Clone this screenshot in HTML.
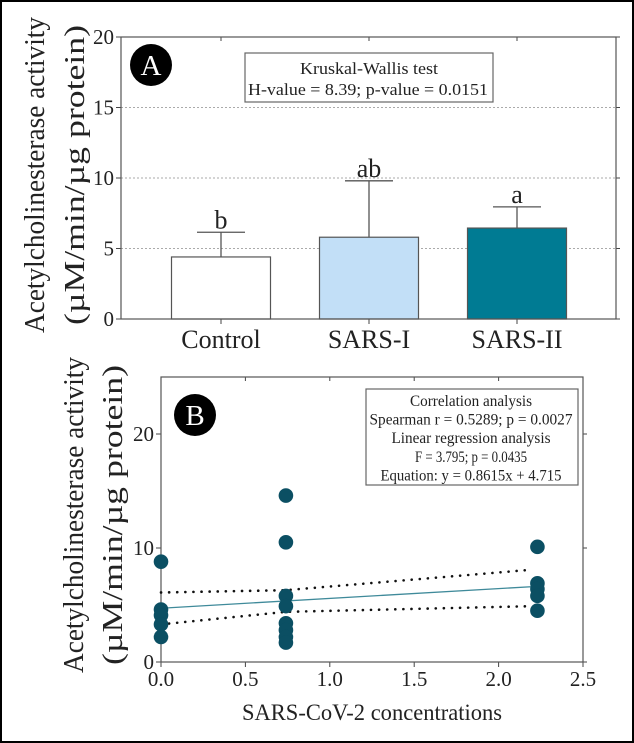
<!DOCTYPE html>
<html><head><meta charset="utf-8"><style>
html,body{margin:0;padding:0;background:#fff}
svg{display:block}
svg text{font-family:"Liberation Serif","DejaVu Serif","Noto Serif CJK SC",serif;fill:#222}
</style></head><body>
<svg width="634" height="743" viewBox="0 0 634 743" xmlns="http://www.w3.org/2000/svg">
<rect x="1" y="1" width="632" height="741" fill="#fff" stroke="#000" stroke-width="2"/>
<g id="panelA"></g>
<g id="panelB"></g>
</svg>
<script>
// Panel A data
const catsA = ["Control", "SARS-I", "SARS-II"];
const meansA = [4.4, 5.8, 6.45];
const errA = [6.15, 9.8, 7.95];
const lettersA = ["b", "ab", "a"];
const fillsA = ["#ffffff", "#c2dff7", "#007b93"];
const ticksA = [0, 5, 10, 15, 20];
// Panel B data
const xB0 = [0, 0, 0, 0, 0];
const yB0 = [8.8, 4.6, 4.1, 3.3, 2.2];
const xB1 = [0.74, 0.74, 0.74, 0.74, 0.74, 0.74, 0.74, 0.74];
const yB1 = [14.6, 10.5, 5.8, 4.9, 3.4, 2.8, 2.2, 1.7];
const xB2 = [2.23, 2.23, 2.23, 2.23, 2.23];
const yB2 = [10.1, 6.9, 6.4, 5.8, 4.5];
const slopeB = 0.8615, interceptB = 4.715;
const fitRangeB = [0, 2.23];
const ciX = [0, 0.74, 2.2];
const ciUpper = [6.1, 6.3, 8.1];
const ciLower = [3.3, 4.4, 4.9];
const xTicksB = [0, 0.5, 1.0, 1.5, 2.0, 2.5];
const yTicksB = [0, 10, 20];

const NS = "http://www.w3.org/2000/svg";
const SERIF = "'Liberation Serif', 'DejaVu Serif', 'Noto Serif CJK SC', serif";
function mk(parent, tag, attrs, txt) {
  const e = document.createElementNS(NS, tag);
  for (const k in attrs) e.setAttribute(k, attrs[k]);
  if (tag === "text") e.style.fontFamily = SERIF;
  if (txt !== undefined) e.textContent = txt;
  parent.appendChild(e);
  return e;
}

// ---------- Panel A ----------
const A = document.getElementById("panelA");
const axL = 121, axR = 616, axT = 37, axB = 319;
const yA = v => axB - v / 20 * (axB - axT);
const xA = i => 221 + i * 148;
ticksA.forEach(t => {
  if (t > 0 && t < 20) {
    const g = mk(A, "line", {x1: axL, x2: axR, y1: yA(t), y2: yA(t), stroke: "#aaa", "stroke-width": 1, "stroke-dasharray": "2,2"});
    
    
  }
  const tk = mk(A, "line", {x1: axL - 5, x2: axL, y1: yA(t), y2: yA(t), stroke: "#444"});
  
  
  const tr = mk(A, "line", {x1: axR, x2: axR + 4, y1: yA(t), y2: yA(t), stroke: "#444"});
  
  
  const lb = mk(A, "text", {x: axL - 7, y: yA(t) + 7, "text-anchor": "end", "font-size": 21}, String(t));
  
  
});
catsA.forEach((c, i) => {
  const cx = xA(i);
  const bw = 99;
  const bar = mk(A, "rect", {x: cx - bw / 2, y: yA(meansA[i]), width: bw, height: axB - yA(meansA[i]), fill: fillsA[i], stroke: "#555", "stroke-width": 1.2});
  
  
  const el = mk(A, "path", {d: `M${cx},${yA(meansA[i])}V${yA(errA[i])}M${cx - 24},${yA(errA[i])}H${cx + 24}`, stroke: "#555", "stroke-width": 1.3, fill: "none"});
  
  
  const lt = mk(A, "text", {x: cx, y: yA(errA[i]) - 4, "text-anchor": "middle", "font-size": 26}, lettersA[i]);
  
  
  const tb = mk(A, "line", {x1: cx, x2: cx, y1: axB, y2: axB + 5, stroke: "#444"});
  
  
  const tt = mk(A, "line", {x1: cx, x2: cx, y1: axT, y2: axT + 4, stroke: "#444"});
  
  
  const cl = mk(A, "text", {x: cx, y: 348, "text-anchor": "middle", "font-size": 26}, c);
  
  
});
const frA = mk(A, "rect", {x: axL, y: axT, width: axR - axL, height: axB - axT, fill: "none", stroke: "#555", "stroke-width": 1.2});


const cA = mk(A, "circle", {cx: 151, cy: 65, r: 21, fill: "#000"});


const tA = mk(A, "text", {x: 151, y: 75, "text-anchor": "middle", "font-size": 29, style: "fill:#fff"}, "A");


const bxA = mk(A, "rect", {x: 245, y: 53, width: 248, height: 49, fill: "#fff", stroke: "#666", "stroke-width": 1.2});


const s1 = mk(A, "text", {x: 369, y: 74, "text-anchor": "middle", "font-size": 17, textLength: 138, lengthAdjust: "spacingAndGlyphs"}, "Kruskal-Wallis test");


const s2 = mk(A, "text", {x: 368, y: 95, "text-anchor": "middle", "font-size": 17, textLength: 240, lengthAdjust: "spacingAndGlyphs"}, "H-value = 8.39; p-value = 0.0151");


const yla = mk(A, "text", {transform: "translate(44,175) rotate(-90)", "text-anchor": "middle", "font-size": 29, textLength: 316, lengthAdjust: "spacingAndGlyphs"}, "Acetylcholinesterase activity");


const yla2 = mk(A, "text", {transform: "translate(84,175) rotate(-90)", "text-anchor": "middle", "font-size": 29, textLength: 300, lengthAdjust: "spacingAndGlyphs"}, "(µM/min/µg protein)");



// ---------- Panel B ----------
const B = document.getElementById("panelB");
const bL = 161, bR = 583, bT = 377, bB = 662;
const xBf = v => bL + v / 2.5 * (bR - bL);
const yBf = v => bB - v / 25 * (bB - bT);
yTicksB.forEach(t => {
  const tk = mk(B, "line", {x1: bL - 5, x2: bL, y1: yBf(t), y2: yBf(t), stroke: "#444"});
  
  
  const tr = mk(B, "line", {x1: bR, x2: bR + 4, y1: yBf(t), y2: yBf(t), stroke: "#444"});
  
  
  const lb = mk(B, "text", {x: bL - 7, y: yBf(t) + 7, "text-anchor": "end", "font-size": 21}, String(t));
  
  
});
xTicksB.forEach(t => {
  const tk = mk(B, "line", {x1: xBf(t), x2: xBf(t), y1: bB, y2: bB + 5, stroke: "#444"});
  
  
  const tt = mk(B, "line", {x1: xBf(t), x2: xBf(t), y1: bT, y2: bT + 4, stroke: "#444"});
  
  
  const lb = mk(B, "text", {x: xBf(t), y: bB + 24, "text-anchor": "middle", "font-size": 21}, t.toFixed(1));
  
  
});
const frB = mk(B, "rect", {x: bL, y: bT, width: bR - bL, height: bB - bT, fill: "none", stroke: "#555", "stroke-width": 1.2});


[[ciUpper, 'ci-upper'], [ciLower, 'ci-lower']].forEach(([arr, nm]) => {
  const d = ciX.map((x, i) => (i ? "L" : "M") + xBf(x) + "," + yBf(arr[i])).join("");
  const p = mk(B, "path", {d: d, fill: "none", stroke: "#111", "stroke-width": 2.6, "stroke-dasharray": "0.1,8", "stroke-linecap": "round"});
  
  
});
const fit = mk(B, "line", {x1: xBf(fitRangeB[0]), y1: yBf(interceptB + slopeB * fitRangeB[0]), x2: xBf(fitRangeB[1]), y2: yBf(interceptB + slopeB * fitRangeB[1]), stroke: "#3f8a9a", "stroke-width": 1.3});


[[xB0, yB0], [xB1, yB1], [xB2, yB2]].forEach(([xs, ys]) => {
  xs.forEach((x, i) => {
    const c = mk(B, "circle", {cx: xBf(x), cy: yBf(ys[i]), r: 7.3, fill: "#0b4f63"});
    
    
  });
});
const cB = mk(B, "circle", {cx: 195, cy: 415, r: 21, fill: "#000"});


const tB = mk(B, "text", {x: 195, y: 425, "text-anchor": "middle", "font-size": 29, style: "fill:#fff"}, "B");


const bxB = mk(B, "rect", {x: 366, y: 389, width: 212, height: 96, fill: "#fff", stroke: "#666", "stroke-width": 1.2});


const linesB = ["Correlation analysis", "Spearman r = 0.5289; p = 0.0027", "Linear regression analysis", "F = 3.795; p = 0.0435", "Equation: y = 0.8615x + 4.715"];
const lensB = [122, 203, 159, 112, 181];
linesB.forEach((s, i) => {
  const t = mk(B, "text", {x: 471, y: 406 + i * 18.6, "text-anchor": "middle", "font-size": 16, textLength: lensB[i], lengthAdjust: "spacingAndGlyphs"}, s);
  
  
});
const xlb = mk(B, "text", {x: 372, y: 720, "text-anchor": "middle", "font-size": 23, textLength: 260, lengthAdjust: "spacingAndGlyphs"}, "SARS-CoV-2 concentrations");


const ylb = mk(B, "text", {transform: "translate(83,515) rotate(-90)", "text-anchor": "middle", "font-size": 29, textLength: 316, lengthAdjust: "spacingAndGlyphs"}, "Acetylcholinesterase activity");


const ylb2 = mk(B, "text", {transform: "translate(122,515) rotate(-90)", "text-anchor": "middle", "font-size": 29, textLength: 300, lengthAdjust: "spacingAndGlyphs"}, "(µM/min/µg protein)");


</script>
</body></html>
